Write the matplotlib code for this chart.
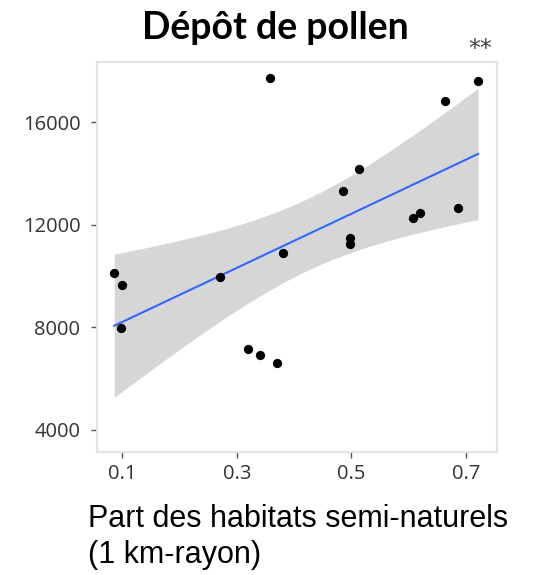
import numpy as np
import matplotlib.pyplot as plt

# part d'habitats semi-naturels (1 km) et dépôt de pollen
part_habitats = [0.086, 0.100, 0.097, 0.270, 0.380, 0.320, 0.340, 0.370, 0.358,
                 0.497, 0.497, 0.485, 0.513, 0.663, 0.721, 0.607, 0.619, 0.686]
depot_pollen = [10125, 9656, 7960, 9970, 10906, 7140, 6906, 6594, 17720,
                11490, 11260, 13305, 14164, 16820, 17600, 12273, 12470, 12660]

x_ticks = [0.1, 0.3, 0.5, 0.7]
y_ticks = [4000, 8000, 12000, 16000]

x = np.array(part_habitats)
y = np.array(depot_pollen)

# regression lineaire + intervalle de confiance 95%
pente, origine = np.polyfit(x, y, 1)
n = len(x)
residus = y - (pente * x + origine)
s = np.sqrt(np.sum(residus**2) / (n - 2))
sxx = np.sum((x - x.mean())**2)
t_crit = 2.12  # t(0.975, ddl=16)

xx = np.linspace(x.min(), x.max(), 100)
yy = pente * xx + origine
se = s * np.sqrt(1 / n + (xx - x.mean())**2 / sxx)

fig = plt.figure(figsize=(5.39, 5.75), dpi=100)
ax = fig.add_axes([0.18, 0.214, 0.742, 0.678])

ax.fill_between(xx, yy - t_crit * se, yy + t_crit * se, color='#d6d6d6', lw=0, zorder=1)
ax.plot(xx, yy, color='#3366ff', lw=1.5, zorder=2)
ax.scatter(x, y, s=32, color='black', zorder=3)

ax.set_xlim(0.056, 0.754)
ax.set_ylim(3140, 18340)
ax.set_xticks(x_ticks)
ax.set_xticklabels(['0.1', '0.3', '0.5', '0.7'])
ax.set_yticks(y_ticks)

for sp in ax.spines.values():
    sp.set_color('#e3e3e3')
    sp.set_linewidth(1.5)
ax.tick_params(colors='#555555', labelsize=14.5, length=4, width=1)
ax.tick_params(axis='y', pad=8)
ax.tick_params(axis='x', pad=5)
for lab in ax.get_xticklabels() + ax.get_yticklabels():
    lab.set_fontfamily('Open Sans')
    lab.set_color('#333333')

fig.text(0.51, 0.952, 'Dépôt de pollen', ha='center', va='center',
         fontsize=27, fontweight='bold', family='Lato')
fig.text(0.89, 0.915, '**', ha='center', va='center', fontsize=17, color='#444444')

fig.text(0.163, 0.066, 'Part des habitats semi-naturels\n(1 km-rayon)', ha='left', va='center',
         fontsize=22, family='Liberation Sans', linespacing=1.3)

fig.savefig('out.png', dpi=100)
